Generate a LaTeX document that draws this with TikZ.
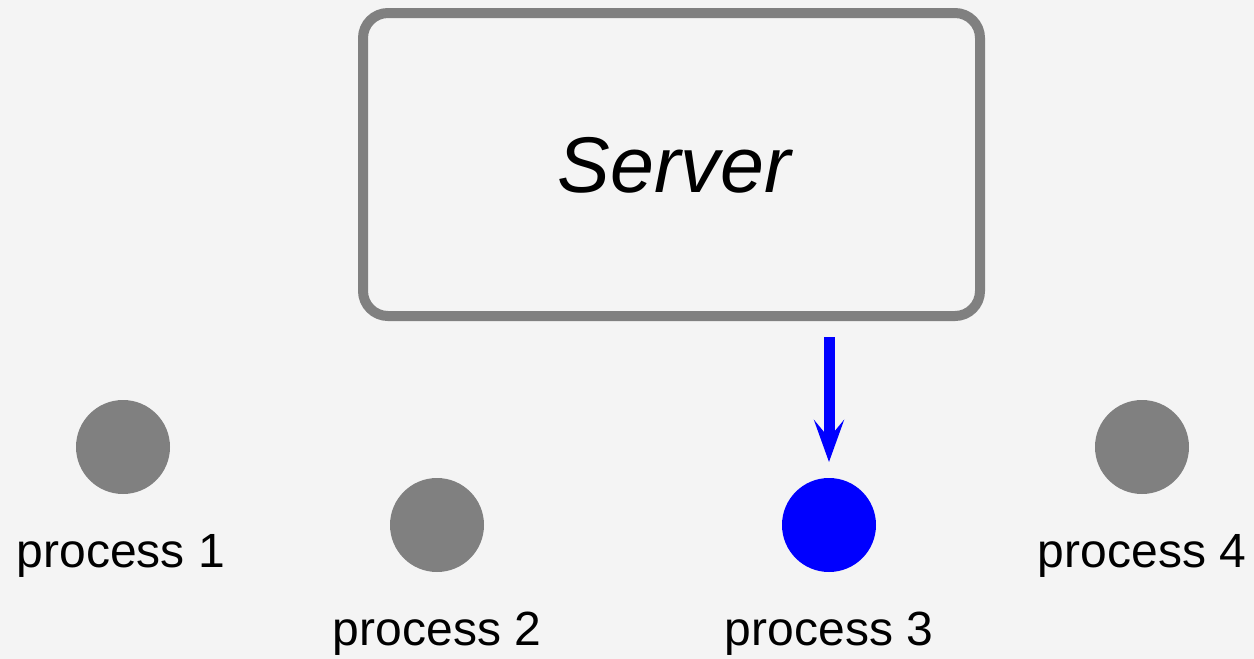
\documentclass[tikz,border=0pt]{standalone}
\usepackage{fontspec}
\setmainfont{Liberation Sans}
\usetikzlibrary{arrows.meta}
\definecolor{bg}{HTML}{F4F4F4}
\definecolor{boxgray}{HTML}{808080}
\definecolor{procblue}{HTML}{0000FF}
\begin{document}
\begin{tikzpicture}[x=1pt,y=-1pt,
  serverbox/.style={draw=boxgray, line width=10pt, rounded corners=25pt,
    minimum width=617pt, minimum height=303pt, inner sep=0pt, outer sep=0pt},
  servertext/.style={font=\fontsize{79}{95}\selectfont\itshape, inner sep=0pt, anchor=base},
  proc/.style={circle, fill=boxgray, minimum size=94pt, inner sep=0pt, outer sep=0pt},
  active/.style={proc, fill=procblue},
  plabel/.style={font=\fontsize{48}{58}\selectfont, inner sep=0pt, anchor=base},
  pushed/.style={draw=procblue, line width=11pt,
    -{Stealth[length=42pt, width=30pt, inset=18pt]}}]
  \fill[bg] (0,0) rectangle (1254,659);
  \useasboundingbox (0,0) rectangle (1254,659);

  \node[serverbox] (server) at (671.5,164.5) {};
  \node[servertext] (title) at (674,192) {Server};

  \node[proc]   (p1) at (123,447) {};
  \node[proc]   (p2) at (437,525) {};
  \node[active] (p3) at (829,525) {};
  \node[proc]   (p4) at (1142,447) {};

  \node[plabel] (l1) at (121,567) {process 1};
  \node[plabel] (l2) at (437,645) {process 2};
  \node[plabel] (l3) at (829,645) {process 3};
  \node[plabel] (l4) at (1142,567) {process 4};

  \coordinate (src) at ([yshift=-21pt]server.south -| p3);
  \coordinate (dst) at ([yshift=16pt]p3.north);
  \draw[pushed] (src) -- (dst);
\end{tikzpicture}
\end{document}
